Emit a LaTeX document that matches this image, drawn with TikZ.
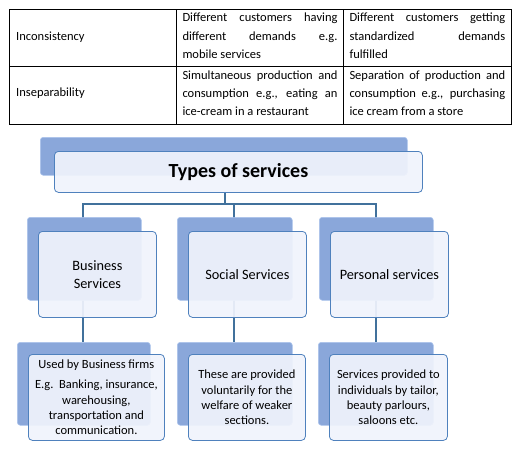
\documentclass[tikz,border=0pt]{standalone}
\usepackage{fontspec}
\setmainfont{Carlito}
\usetikzlibrary{backgrounds}
\definecolor{backblue}{RGB}{138,167,218}
\definecolor{backedge}{RGB}{172,196,236}
\definecolor{frontfill}{RGB}{240,243,252}
\definecolor{frontedge}{RGB}{79,129,189}
\definecolor{linkblue}{RGB}{65,113,156}
\begin{document}
\begin{tikzpicture}[x=1pt,y=-1pt,
  backbox/.style={anchor=north west, inner sep=0pt, rounded corners=3pt, draw=backedge, line width=0.6pt, fill=backblue},
  frontbox/.style={anchor=north west, inner sep=0pt, rounded corners=4pt, draw=frontedge, line width=0.8pt, fill=frontfill, fill opacity=0.93, text opacity=1, align=center},
  link/.style={draw=linkblue, line width=1.5pt},
  grid/.style={draw=black, line width=0.9pt},
  cell/.style={anchor=base west, inner sep=0pt, font=\fontsize{12.5}{15}\selectfont},
  midtext/.style={font=\fontsize{14.3}{18}\selectfont},
  lowtext/.style={font=\fontsize{12.5}{15.3}\selectfont},
]
\useasboundingbox (0,0) rectangle (517,450);

% ---------- table ----------
\draw[grid] (9,9) rectangle (511,124);
\draw[grid] (176,9) -- (176,124);
\draw[grid] (343,9) -- (343,124);
\draw[grid] (9,66) -- (511,66);

\node[cell] (l1) at (16,40.7) {Inconsistency};
\node[cell] (l2) at (16,96.7) {Inseparability};

\node[cell] (a1) at (182.3,21.7) {\makebox[155pt][s]{Different customers having}};
\node[cell] (a2) at (182.3,40.5) {\makebox[155pt][s]{different demands e.g.}};
\node[cell] (a3) at (182.3,58.7) {mobile services};
\node[cell] (b1t) at (349.3,21.7) {\makebox[155.7pt][s]{Different customers getting}};
\node[cell] (b2t) at (349.3,40.5) {\makebox[155.7pt][s]{standardized demands}};
\node[cell] (b3t) at (349.3,58.7) {fulfilled};

\node[cell] (c1t) at (182.3,79.3) {\makebox[155pt][s]{Simultaneous production and}};
\node[cell] (c2t) at (182.3,97.3) {\makebox[155pt][s]{consumption e.g., eating an}};
\node[cell] (c3t) at (182.3,115) {ice-cream in a restaurant};
\node[cell] (d1t) at (349.3,79.3) {\makebox[155.7pt][s]{Separation of production and}};
\node[cell] (d2t) at (349.3,97.3) {\makebox[155.7pt][s]{consumption e.g., purchasing}};
\node[cell] (d3t) at (349.3,115) {ice cream from a store};

% ---------- hierarchy ----------
\node[backbox, minimum width=367pt, minimum height=38pt] (tb) at (40,137) {};
\node[frontbox, minimum width=368pt, minimum height=41pt, font=\bfseries\fontsize{20}{24}\selectfont] (tf) at (54,151) {Types of services};

\node[backbox, minimum width=114pt, minimum height=83pt] (mb1) at (27,217) {};
\node[backbox, minimum width=115pt, minimum height=83pt] (mb2) at (177,217) {};
\node[backbox, minimum width=114pt, minimum height=83pt] (mb3) at (319,217) {};
\node[frontbox, minimum width=118pt, minimum height=86pt, midtext] (mf1) at (38,231) {Business\\Services};
\node[frontbox, minimum width=118pt, minimum height=86pt, midtext] (mf2) at (188,231) {Social Services};
\node[frontbox, minimum width=118pt, minimum height=86pt, midtext] (mf3) at (330,231) {Personal services};

\node[backbox, minimum width=133pt, minimum height=83pt] (lb1) at (17,342) {};
\node[backbox, minimum width=115pt, minimum height=83pt] (lb2) at (177,342) {};
\node[backbox, minimum width=115pt, minimum height=83pt] (lb3) at (318,342) {};
\node[frontbox, minimum width=136pt, minimum height=86pt, lowtext] (lf1) at (28,354) {Used by Business firms\\[5pt]E.g.\ \ Banking, insurance,\\warehousing,\\transportation and\\communication.};
\node[frontbox, minimum width=117pt, minimum height=86pt, lowtext] (lf2) at (188,354) {These are provided\\voluntarily for the\\welfare of weaker\\sections.};
\node[frontbox, minimum width=118pt, minimum height=86pt, lowtext] (lf3) at (329,354) {Services provided to\\individuals by tailor,\\beauty parlours,\\saloons etc.};

\coordinate (j0) at (225,192);
\coordinate (j1) at (225,204);
\coordinate (jl) at (83,204);
\coordinate (jm) at (234,204);
\coordinate (jr) at (376,204);

\begin{pgfonlayer}{background}
  \draw[link] (j0) -- (j1);
  \draw[link] ([xshift=-0.75pt]jl) -- ([xshift=0.75pt]jr);
  \draw[link] (jl) -- (jl |- lb1.north);
  \draw[link] (jm) -- (jm |- lb2.north);
  \draw[link] (jr) -- (jr |- lb3.north);
\end{pgfonlayer}
\end{tikzpicture}
\end{document}
